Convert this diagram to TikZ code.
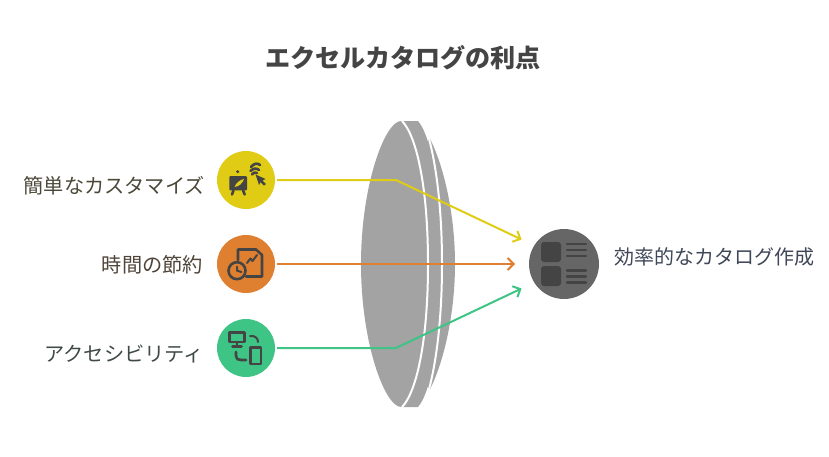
\documentclass[tikz,border=0pt]{standalone}
\usepackage{fontspec}
\setmainfont{Noto Sans CJK JP}
\usetikzlibrary{arrows.meta}
\definecolor{lensgray}{HTML}{A3A3A3}
\definecolor{icongray}{HTML}{444444}
\definecolor{catyellow}{HTML}{E0CB15}
\definecolor{catorange}{HTML}{DF8030}
\definecolor{catgreen}{HTML}{3EC484}
\definecolor{targetgray}{HTML}{666666}
\definecolor{easytext}{HTML}{4B4838}
\definecolor{timetext}{HTML}{4F4438}
\definecolor{accesstext}{HTML}{3F4A44}
\definecolor{targettext}{HTML}{3F4758}
\tikzset{
  source/.style={circle, minimum size=58pt, inner sep=0pt, outer sep=2pt},
  flow/.style={line width=2pt, -{Straight Barb[length=6pt, width=12pt, line width=2pt]}},
  label/.style={font=\fontsize{20.2pt}{24pt}\selectfont, inner sep=0pt},
  iconline/.style={draw=icongray, line width=2.6pt, line cap=round, line join=round},
  listline/.style={draw=icongray, line width=2.4pt, line cap=round},
}
\begin{document}
\begin{tikzpicture}[x=1pt, y=-1pt]
\useasboundingbox (0, 0) rectangle (829, 456);
\node (title) at (403, 58) [font=\fontsize{25.1pt}{30pt}\selectfont\bfseries, text=icongray, inner sep=0pt] {エクセルカタログの利点};
% lens
\fill [lensgray] (428, 135) .. controls (442, 160) and (455, 210) .. (455, 264) .. controls (455, 318) and (442, 368) .. (428, 393) -- cycle;
\fill [lensgray] (403, 121) -- (418, 121) .. controls (431, 135) and (442, 195) .. (442, 264) .. controls (442, 333) and (431, 393) .. (418, 407) -- (403, 407) -- cycle;
\draw [white, line width=2pt] (428, 135) .. controls (436.5, 165) and (442, 210) .. (442, 264) .. controls (442, 318) and (436.5, 363) .. (428, 393);
\fill [lensgray] (401, 121) .. controls (385, 121) and (361, 185) .. (361, 264) .. controls (361, 343) and (385, 407) .. (401, 407) .. controls (416, 407) and (428, 343) .. (428, 264) .. controls (428, 185) and (416, 121) .. (401, 121) -- cycle;
\draw [white, line width=2pt] (402, 121) .. controls (416, 135) and (428, 185) .. (428, 264) .. controls (428, 343) and (416, 393) .. (402, 407);
% sources
\node (easy) at (246, 180) [source, fill=catyellow] {};
\node (time) at (246, 264) [source, fill=catorange] {};
\node (access) at (246, 348) [source, fill=catgreen] {};
\node (target) at (564, 264) [circle, minimum size=70pt, inner sep=0pt, outer sep=14pt, fill=targetgray] {};
\coordinate (easybend) at (396, 180);
\coordinate (accessbend) at (396, 348);
\draw [flow, catyellow] (easy.east) -- (easybend) -- (target.150);
\draw [flow, catorange] (time.east) -- (target.west);
\draw [flow, catgreen] (access.east) -- (accessbend) -- (target.210);
\node (easylabel) at (205, 185.5) [label, anchor=east, text=easytext] {簡単なカスタマイズ};
\node (timelabel) at (203, 264.5) [label, anchor=east, text=timetext] {時間の節約};
\node (accesslabel) at (204, 353.5) [label, anchor=east, text=accesstext] {アクセシビリティ};
\node (targetlabel) at (614, 257) [label, anchor=west, text=targettext, font=\fontsize{20pt}{24pt}\selectfont] {効率的なカタログ作成};
% easel icon
\fill [icongray, rounded corners=1pt] (229.3, 176) rectangle (247, 190.3);
\fill [icongray] (237.7, 171.7) circle (1.7);
\draw [iconline] (233.5, 190.3) -- (232, 194.5);
\draw [iconline] (243, 190.3) -- (244.7, 194.5);
\fill [catyellow] (234.5, 187) .. controls (236, 182.5) and (240, 180) .. (244, 179) .. controls (242.5, 183) and (239.5, 186.5) .. (234.5, 187) -- cycle;
\fill [icongray] (255.5, 174.5) -- (265.5, 179) -- (262.5, 180.5) -- (266, 184) -- (264, 185.5) -- (260.5, 182) -- (259, 185) -- cycle;
\draw [iconline] (251, 167) .. controls (254, 163) and (258, 163) .. (260, 165);
\draw [iconline] (250.5, 171) .. controls (253, 168) and (257, 168) .. (259, 170);
\draw [iconline] (252, 174.5) .. controls (253, 172.5) and (255, 172) .. (257, 173);
% report icon
\draw [iconline] (238, 260) -- (238, 249.5) -- (256, 249.5) -- (262, 255) -- (262, 276.5) -- (246, 276.5);
\draw [iconline] (237, 270.7) circle (8.5);
\draw [iconline, line width=2pt] (237, 266.5) -- (237, 270.7) -- (241.5, 272);
\draw [iconline, line width=2pt] (247, 263) -- (250.5, 258.5) -- (252.5, 261) -- (257, 255);
% devices icon
\draw [iconline] (229.5, 332.5) rectangle (244.5, 342);
\draw [iconline] (237, 342) -- (237, 346);
\draw [iconline] (232.5, 346.5) -- (241.5, 346.5);
\draw [iconline] (250.5, 347.5) rectangle (261, 364);
\draw [iconline, line width=2pt] (250, 336) .. controls (255, 335.5) and (258, 338) .. (258, 342);
\draw [iconline] (236, 352) -- (236, 356) .. controls (236, 359) and (238, 360) .. (241, 360) -- (246, 360);
% list icon
\fill [icongray, rounded corners=3pt] (541, 242) rectangle (561, 262);
\fill [icongray, rounded corners=3pt] (541, 266) rectangle (561, 286);
\draw [listline] (567, 244) -- (586, 244);
\draw [listline] (567, 250) -- (586, 250);
\draw [listline] (567, 256) -- (586, 256);
\draw [listline] (567, 270.3) -- (586, 270.3);
\draw [listline] (567, 276.3) -- (586, 276.3);
\draw [listline] (567, 282.3) -- (586, 282.3);
\end{tikzpicture}
\end{document}
